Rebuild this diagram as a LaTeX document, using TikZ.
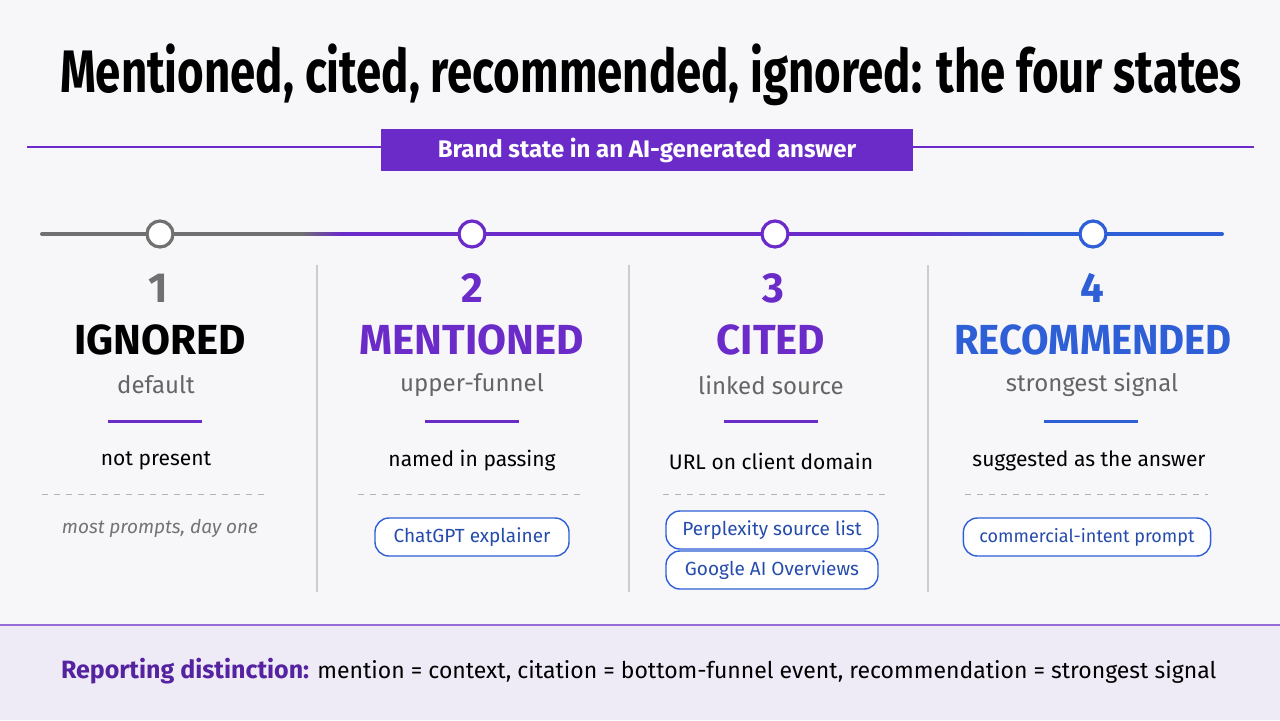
\documentclass[tikz,border=0pt]{standalone}
\usepackage{fontspec}
\setmainfont{Fira Sans}
\usetikzlibrary{calc}
\definecolor{pur}{HTML}{6A2BC8}
\definecolor{blu}{HTML}{2E5FD6}
\definecolor{gry}{HTML}{707070}
\definecolor{bg}{HTML}{F7F7FA}
\definecolor{band}{HTML}{EEEBF7}
\begin{document}
\begin{tikzpicture}[x=0.5pt,y=-0.5pt,
 dot/.style={circle,draw=#1,line width=1.6pt,fill=white,minimum size=13pt,inner sep=0},
 num/.style={font=\fontsize{21}{21}\selectfont\bfseries,text=#1},
 big/.style={font=\fontsize{21}{21}\selectfont\bfseries,text=#1},
 sub/.style={font=\fontsize{12}{12}\selectfont,text=gry!90!black},
 txt/.style={font=\fontsize{10.5}{11}\selectfont},
 pill/.style={draw=blu,rounded corners=7pt,line width=0.7pt,fill=white,text=blu!80!black,font=\fontsize{9.5}{10}\selectfont,minimum height=19pt,inner xsep=8pt},
 div/.style={draw=gray!40,line width=0.8pt},
 dsh/.style={draw=gray!60,dashed,line width=0.5pt}]
\fill[bg] (0,0) rectangle (1280,720);
\useasboundingbox (0,0) rectangle (1280,720);
\node[font=\fontsize{30}{30}\selectfont\bfseries] (title) at (651,75) {\scalebox{0.76}[1]{Mentioned, cited, recommended, ignored: the four states}};
\coordinate (hl) at (27,147); \coordinate (hr) at (1254,147);
\draw[pur,line width=0.8pt] (hl) -- (hr);
\node[fill=pur,text=white,font=\fontsize{12}{12}\selectfont\bfseries,minimum width=266pt,minimum height=21pt] (banner) at (647,150) {Brand state in an AI-generated answer};
\coordinate (t0) at (42,234); \coordinate (t1) at (300,234); \coordinate (t2) at (900,234); \coordinate (t3) at (1222,234);
\draw[gry,line width=2pt,line cap=round] (t0) -- (t1);
\foreach \i in {0,...,19} {\pgfmathtruncatemacro\p{\i*5}
  \draw[pur!\p!gry,line width=2pt] (300+\i*2,234) -- (302.5+\i*2,234);}
\draw[pur,line width=2pt] (340,234) -- (t2);
\foreach \i in {0,...,27} {\pgfmathtruncatemacro\p{\i*100/27}
  \draw[blu!\p!pur,line width=2pt] (900+\i*5,234) -- (906+\i*5,234);}
\draw[blu,line width=2pt,line cap=round] (1040,234) -- (t3);
\node[dot=gry] (d1) at (160,234) {};
\node[dot=pur] (d2) at (472,234) {};
\node[dot=pur] (d3) at (775,234) {};
\node[dot=blu] (d4) at (1093,234) {};
\foreach \x in {317,629,928} \draw[div] (\x,265) -- (\x,592);
\node[num=gry] (n1) at (158,288) {1};
\node[big=black] (l1) at (160,340) {IGNORED};
\node[sub] (s1) at (156,385) {default};
\draw[pur,line width=1.5pt] (108,421) -- (202,421);
\node[txt] (x1) at (156,461) {not present};
\draw[dsh] (42,494) -- (270,494);
\node[txt,font=\fontsize{9.5}{10}\selectfont\itshape,text=gray!90!black] (p1) at (160,528) {most prompts, day one};
\node[num=pur] (n2) at (472,288) {2};
\node[big=pur] (l2) at (472,340) {MENTIONED};
\node[sub] (s2) at (472,385) {upper-funnel};
\draw[pur,line width=1.5pt] (425,421) -- (519,421);
\node[txt] (x2) at (472,461) {named in passing};
\draw[dsh] (358,494) -- (582,494);
\node[pill,minimum width=97pt] (p2) at (472,537) {ChatGPT explainer};
\node[num=pur] (n3) at (773,288) {3};
\node[big=pur] (l3) at (771,340) {CITED};
\node[sub] (s3) at (771,385) {linked source};
\draw[pur,line width=1.5pt] (724,421) -- (818,421);
\node[txt] (x3) at (771,461) {URL on client domain};
\draw[dsh] (663,494) -- (887,494);
\node[pill,minimum width=106pt] (p3) at (772,530) {Perplexity source list};
\node[pill,minimum width=106pt] (p4) at (772,570) {Google AI Overviews};
\node[num=blu] (n4) at (1092,288) {4};
\node[big=blu] (l4) at (1093,340) {\scalebox{0.95}[1]{RECOMMENDED}};
\node[sub] (s4) at (1092,385) {strongest signal};
\draw[blu,line width=1.5pt] (1044,421) -- (1138,421);
\node[txt] (x4) at (1089,461) {suggested as the answer};
\draw[dsh] (965,494) -- (1208,494);
\node[pill,minimum width=117pt,font=\fontsize{9}{10}\selectfont] (p5) at (1087,537) {commercial-intent prompt};
\fill[band] (0,625) rectangle (1280,720);
\coordinate (bl) at (0,625); \coordinate (br) at (1280,625);
\draw[pur!70,line width=1pt] (bl) -- (br);
\node[anchor=west,font=\fontsize{11.5}{12}\selectfont] (foot) at (54,671) {\textcolor{pur!80!black}{\bfseries\fontsize{12.5}{13}\selectfont Reporting distinction:} mention = context, citation = bottom-funnel event, recommendation = strongest signal};
\end{tikzpicture}
\end{document}
